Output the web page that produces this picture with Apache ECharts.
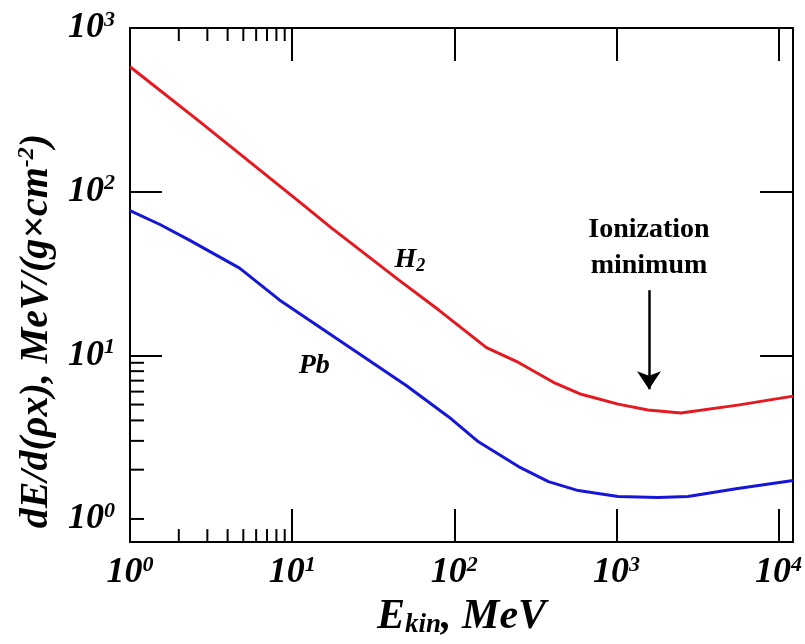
<!DOCTYPE html>
<html>
<head>
<meta charset="utf-8">
<script src="https://cdn.jsdelivr.net/npm/echarts@6/dist/echarts.min.js"></script>
<style>
  html, body { margin: 0; padding: 0; background: #fff; }
  #chart { width: 805px; height: 644px; }
</style>
</head>
<body>
<div id="chart"></div>
<script>
// kinetic energy, MeV / stopping power, MeV/(g cm^-2)
var energyH2 = [1, 2.69, 11.1, 17.7, 45.6, 80.3, 158, 249, 409, 607, 1025, 1567, 2500, 5600, 12300];
var dedxH2 = [580, 268, 86.6, 59.4, 28.8, 18.9, 11.15, 9.04, 6.84, 5.78, 5.03, 4.63, 4.44, 4.96, 5.63];

var energyPb = [1, 1.53, 2.34, 4.74, 8.35, 50.3, 92.5, 141, 249, 381, 582, 1025, 1805, 2760, 5600, 12300];
var dedxPb = [76.6, 63.0, 50.4, 34.1, 21.8, 6.56, 4.20, 2.96, 2.09, 1.69, 1.49, 1.373, 1.354, 1.373, 1.536, 1.717];

// axis ranges and ticks
var xMin = 1, xMax = 12300;
var yMin = 0.722, yMax = 1000;
var xLabelValues = [1, 10, 100, 1000, 10000];
var yLabelValues = [1, 10, 100, 1000];
var xMajorTicks = [10, 100, 1000, 10000];
var yMajorTicks = [10, 100];
var xMinorTicks = [2, 3, 4, 5, 6, 7, 8, 9];
var yMinorTicks = [1, 2, 3, 4, 5, 6, 7, 8, 9];

// annotations (data coordinates)
var h2Note = [53.3, 38.1];
var pbNote = [13.7, 8.67];
var ionNote = [1589, 45.1];
var arrowX = 1589, arrowTop = 25.0, arrowBottom = 6.2;

var serif = 'Liberation Serif';

function powLabel(v) {
  var e = Math.log10(v);
  var n = Math.round(e);
  if (Math.abs(e - n) > 1e-6) return '';
  return '{b|10}{s|' + n + '}';
}

var tickRich = {
  b: { fontFamily: serif, fontWeight: 'bold', fontStyle: 'italic', fontSize: 36, lineHeight: 38, color: '#000' },
  s: { fontFamily: serif, fontWeight: 'bold', fontStyle: 'italic', fontSize: 22, lineHeight: 22, verticalAlign: 'top', color: '#000' }
};

var axisLine = { show: true, lineStyle: { color: '#000', width: 2 } };

function minorTicks(values, side) {
  return {
    type: 'custom',
    silent: true,
    z: 5,
    clip: false,
    data: values.map(function (v) { return side === 'left' ? [xMin, v] : [v, 1]; }),
    renderItem: function (params, api) {
      var cs = params.coordSys;
      var p = api.coord([api.value(0), api.value(1)]);
      var shape;
      if (side === 'bottom') {
        shape = { x1: p[0], y1: cs.y + cs.height, x2: p[0], y2: cs.y + cs.height - 13 };
      } else if (side === 'top') {
        shape = { x1: p[0], y1: cs.y, x2: p[0], y2: cs.y + 13 };
      } else {
        shape = { x1: cs.x, y1: p[1], x2: cs.x + 14, y2: p[1] };
      }
      return { type: 'line', shape: shape, style: { stroke: '#000', lineWidth: 2 } };
    }
  };
}

var chart = echarts.init(document.getElementById('chart'));
chart.setOption({
  animation: false,
  grid: { left: 130, top: 28, width: 666, height: 518 },
  xAxis: [
    {
      type: 'log', logBase: 10, min: xMin, max: xMax, position: 'bottom',
      axisLine: axisLine,
      axisTick: { inside: true, length: 33, customValues: xMajorTicks, lineStyle: { color: '#000', width: 2 } },
      axisLabel: { margin: 12, formatter: powLabel, rich: tickRich, customValues: xLabelValues },
      splitLine: { show: false },
      name: '{t|E}{k|kin}{t|, MeV}',
      nameLocation: 'middle',
      nameGap: 51,
      nameTextStyle: {
        rich: {
          t: { fontFamily: serif, fontWeight: 'bold', fontStyle: 'italic', fontSize: 42, lineHeight: 44, color: '#000' },
          k: { fontFamily: serif, fontWeight: 'bold', fontStyle: 'italic', fontSize: 27, lineHeight: 26, verticalAlign: 'bottom', color: '#000' }
        }
      }
    },
    {
      type: 'log', logBase: 10, min: xMin, max: xMax, position: 'top',
      axisLine: axisLine,
      axisTick: { inside: true, length: 33, customValues: xMajorTicks, lineStyle: { color: '#000', width: 2 } },
      axisLabel: { show: false },
      splitLine: { show: false }
    }
  ],
  yAxis: [
    {
      type: 'log', logBase: 10, min: yMin, max: yMax, position: 'left',
      axisLine: axisLine,
      axisTick: { inside: true, length: 32, customValues: yMajorTicks, lineStyle: { color: '#000', width: 2 } },
      axisLabel: { margin: 15, formatter: powLabel, rich: tickRich, customValues: yLabelValues },
      splitLine: { show: false },
      name: '{t|dE/d(ρx), MeV/(g×cm}{u|-2}{t|)}',
      nameLocation: 'middle',
      nameGap: 69,
      nameRotate: 90,
      nameTextStyle: {
        padding: [0, 92, 0, 0],
        rich: {
          t: { fontFamily: serif, fontWeight: 'bold', fontStyle: 'italic', fontSize: 40, lineHeight: 44, color: '#000' },
          u: { fontFamily: serif, fontWeight: 'bold', fontStyle: 'italic', fontSize: 24, lineHeight: 24, verticalAlign: 'top', color: '#000' }
        }
      }
    },
    {
      type: 'log', logBase: 10, min: yMin, max: yMax, position: 'right',
      axisLine: axisLine,
      axisTick: { inside: true, length: 33, customValues: yMajorTicks, lineStyle: { color: '#000', width: 2 } },
      axisLabel: { show: false },
      splitLine: { show: false }
    }
  ],
  series: [
    {
      name: 'H2', type: 'line', showSymbol: false, symbol: 'none', silent: true,
      lineStyle: { color: '#e5191f', width: 3 },
      data: energyH2.map(function (e, i) { return [e, dedxH2[i]]; })
    },
    {
      name: 'Pb', type: 'line', showSymbol: false, symbol: 'none', silent: true,
      lineStyle: { color: '#1616d8', width: 3 },
      data: energyPb.map(function (e, i) { return [e, dedxPb[i]]; })
    },
    minorTicks(xMinorTicks, 'bottom'),
    minorTicks(xMinorTicks, 'top'),
    minorTicks(yMinorTicks, 'left'),
    {
      type: 'scatter', silent: true, symbolSize: 0,
      label: {
        show: true, position: 'inside', color: '#000',
        rich: {
          t: { fontFamily: serif, fontWeight: 'bold', fontStyle: 'italic', fontSize: 28, lineHeight: 30, color: '#000' },
          u: { fontFamily: serif, fontWeight: 'bold', fontStyle: 'italic', fontSize: 18, lineHeight: 18, verticalAlign: 'bottom', color: '#000' },
          m: { fontFamily: serif, fontWeight: 'bold', fontSize: 28, lineHeight: 36, color: '#000' }
        }
      },
      itemStyle: { color: '#000', opacity: 1 },
      data: [
        { value: h2Note, label: { formatter: '{t|H}{u|2}' } },
        { value: pbNote, label: { formatter: '{t|Pb}' } },
        { value: ionNote, label: { formatter: '{m|Ionization}\n{m|minimum}' } }
      ],
      markLine: {
        silent: true,
        symbol: ['none', 'arrow'],
        symbolSize: 18,
        label: { show: false },
        lineStyle: { color: '#000', width: 2.5, type: 'solid' },
        data: [[{ coord: [arrowX, arrowTop] }, { coord: [arrowX, arrowBottom] }]]
      }
    }
  ]
});
</script>
</body>
</html>
